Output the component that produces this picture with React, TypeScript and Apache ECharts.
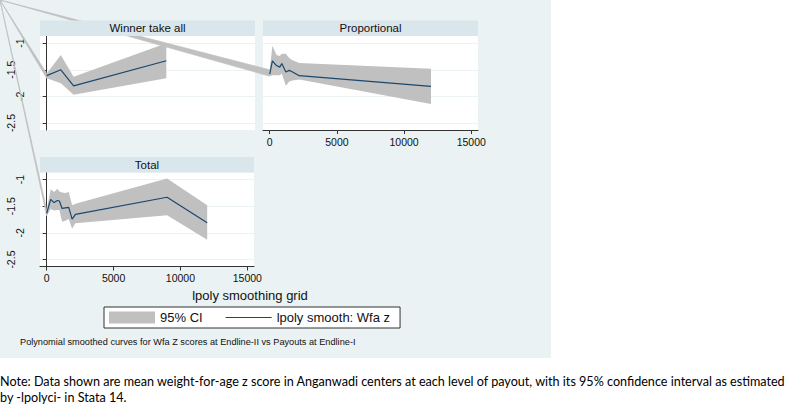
import React, { useEffect, useRef } from "react";
import * as echarts from "echarts";

// ---- data ----
const panelTitles = ["Winner take all", "Proportional", "Total"];
const yTicks = [-2.5, -2, -1.5, -1];
const xTicks = [0, 5000, 10000, 15000];

const wtaX = [0, 1050, 2000, 8900];
const wtaFit = [-1.61, -1.5, -1.8, -1.33];
const wtaUpper = [-1.57, -1.22, -1.63, -1.0];
const wtaLower = [-1.66, -1.75, -1.97, -1.66];

const propX = [0, 200, 500, 750, 900, 1200, 1450, 1700, 2200, 12000];
const propFit = [-1.58, -1.33, -1.42, -1.45, -1.38, -1.54, -1.51, -1.54, -1.61, -1.81];
const propUpper = [-1.5, -1.05, -1.22, -1.24, -1.2, -1.2, -1.28, -1.32, -1.37, -1.48];
const propLower = [-1.62, -1.6, -1.6, -1.6, -1.57, -1.8, -1.72, -1.7, -1.68, -2.14];

const totX = [0, 300, 550, 800, 950, 1150, 1400, 1650, 1900, 2150, 9000, 12000];
const totFit = [-1.63, -1.37, -1.43, -1.39, -1.4, -1.54, -1.53, -1.52, -1.74, -1.65, -1.33, -1.81];
const totUpper = [-1.57, -1.18, -1.23, -1.17, -1.22, -1.24, -1.25, -1.23, -1.48, -1.45, -0.98, -1.48];
const totLower = [-1.68, -1.55, -1.58, -1.57, -1.57, -1.79, -1.77, -1.74, -1.92, -1.82, -1.67, -2.13];

const ciName = "95% CI";
const fitName = "lpoly smooth: Wfa z";
const xTitle = "lpoly smoothing grid";
const caption = "Polynomial smoothed curves for Wfa Z scores at Endline-II vs Payouts at Endline-I";
const note1 =
  "Note: Data shown are mean weight-for-age z score in Anganwadi centers at each level of payout, with its 95% confidence interval as estimated";
const note2 = "by -lpolyci- in Stata 14.";

// ---- styles ----
const CI_COLOR = "#c0c0c0";
const LINE_COLOR = "#1a476f";
const OUTER_BG = "#eaf2f3";
const STRIP_BG = "#d9e6eb";
const AXIS_COLOR = "#333333";
const FONT = "Liberation Sans, Arial, sans-serif";
const NOTE_FONT = "Lato, sans-serif";

const panels = [
  { xs: wtaX, fit: wtaFit, up: wtaUpper, lo: wtaLower, grid: { left: 40, top: 36, width: 215, height: 94 }, showX: false, showY: true },
  { xs: propX, fit: propFit, up: propUpper, lo: propLower, grid: { left: 263, top: 36, width: 215, height: 94 }, showX: true, showY: false },
  { xs: totX, fit: totFit, up: totUpper, lo: totLower, grid: { left: 40, top: 172.5, width: 214, height: 94 }, showX: true, showY: true },
];

export default function App() {
  const ref = useRef<HTMLDivElement>(null);

  useEffect(() => {
    if (!ref.current) return;
    const chart = echarts.init(ref.current, null, { renderer: "svg" });

    const grids = panels.map((p) => ({
      ...p.grid,
      show: true,
      backgroundColor: "#ffffff",
      borderWidth: 0,
      containLabel: false,
    }));

    const xAxes = panels.map((p, i) => ({
      type: "value",
      gridIndex: i,
      min: -500,
      max: 15500,
      splitNumber: 3,
      axisLine: { show: p.showX, onZero: false, lineStyle: { color: AXIS_COLOR, width: 1 } },
      axisTick: { show: p.showX, customValues: xTicks, length: 4, lineStyle: { color: AXIS_COLOR } },
      axisLabel: {
        show: p.showX,
        customValues: xTicks,
        margin: 6,
        fontSize: 10.5,
        color: "#111",
        fontFamily: FONT,
        formatter: (v: number) => String(v),
      },
      splitLine: { show: false },
    }));

    const yAxes = panels.map((p, i) => ({
      type: "value",
      gridIndex: i,
      min: -2.63,
      max: -0.865,
      splitNumber: 3,
      axisLine: { show: p.showY, lineStyle: { color: AXIS_COLOR, width: 1 } },
      axisTick: { show: p.showY, customValues: yTicks, length: 4, lineStyle: { color: AXIS_COLOR } },
      axisLabel: {
        show: p.showY,
        customValues: yTicks,
        rotate: 90,
        margin: 14,
        formatter: (v: number) => (Number.isInteger(v) ? `{a|${v}}` : `{b|${v}}`),
        rich: {
          a: { fontSize: 10.5, lineHeight: 12, color: "#111", fontFamily: FONT },
          b: { fontSize: 10.5, lineHeight: 30, color: "#111", fontFamily: FONT },
        },
      },
      splitLine: { show: true, lineStyle: { color: OUTER_BG, width: 1 } },
    }));

    const series: any[] = [];
    panels.forEach((p, i) => {
      const { xs, up, lo, fit } = p;
      // stray wedge from the page corner (drawing artifact of the original figure)
      series.push({
        type: "custom",
        name: ciName,
        xAxisIndex: i,
        yAxisIndex: i,
        clip: false,
        silent: true,
        z: 1,
        itemStyle: { color: CI_COLOR },
        data: [[xs[0], up[0]]],
        renderItem: (_params: any, api: any) => {
          const a = api.coord([xs[0], up[0]]);
          const b = api.coord([xs[0], lo[0]]);
          return {
            type: "polygon",
            shape: { points: [[0, 0], a, b] },
            style: { fill: CI_COLOR, stroke: CI_COLOR, lineWidth: 0.7 },
          };
        },
      });
      series.push({
        type: "custom",
        name: ciName,
        xAxisIndex: i,
        yAxisIndex: i,
        clip: true,
        silent: true,
        z: 2,
        itemStyle: { color: CI_COLOR },
        data: [[xs[0], up[0]]],
        renderItem: (_params: any, api: any) => {
          const pts: number[][] = [];
          xs.forEach((x, k) => pts.push(api.coord([x, up[k]])));
          for (let k = xs.length - 1; k >= 0; k--) pts.push(api.coord([xs[k], lo[k]]));
          return { type: "polygon", shape: { points: pts }, style: { fill: CI_COLOR } };
        },
      });
      series.push({
        type: "line",
        name: fitName,
        xAxisIndex: i,
        yAxisIndex: i,
        data: xs.map((x, k) => [x, fit[k]]),
        symbol: "none",
        showSymbol: false,
        clip: true,
        z: 3,
        lineStyle: { color: LINE_COLOR, width: 1.2 },
        itemStyle: { color: LINE_COLOR },
      });
    });

    const stripTitles = panels.map((p, i) => ({
      text: panelTitles[i],
      left: p.grid.left + p.grid.width / 2,
      top: p.grid.top - 8,
      textAlign: "center",
      textVerticalAlign: "middle",
      padding: 0,
      z: 60,
      textStyle: { fontSize: 11.5, fontWeight: "normal", color: "#111", fontFamily: FONT },
    }));

    const option: any = {
      animation: false,
      backgroundColor: "#ffffff",
      grid: grids,
      xAxis: xAxes,
      yAxis: yAxes,
      series,
      legend: {
        left: 104,
        top: 307,
        orient: "horizontal",
        padding: [4, 10, 4, 5],
        itemGap: 23,
        itemWidth: 46,
        itemHeight: 12,
        backgroundColor: "#ffffff",
        borderColor: "#333",
        borderWidth: 1,
        borderRadius: 0,
        selectedMode: false,
        textStyle: { fontSize: 13, color: "#111", fontFamily: FONT },
        data: [
          { name: ciName, icon: "rect", itemStyle: { color: CI_COLOR } },
          { name: fitName, icon: "path://M0,0h46v1.2h-46z", itemStyle: { color: LINE_COLOR } },
        ],
      },
      title: [
        ...stripTitles,
        {
          text: xTitle,
          left: 250,
          top: 295,
          textAlign: "center",
          textVerticalAlign: "middle",
          padding: 0,
          textStyle: { fontSize: 13, fontWeight: "normal", color: "#111", fontFamily: FONT },
        },
        {
          text: caption,
          left: 20,
          top: 342,
          textAlign: "left",
          textVerticalAlign: "middle",
          padding: 0,
          textStyle: { fontSize: 9.2, fontWeight: "normal", color: "#111", fontFamily: FONT },
        },
        {
          text: note1,
          left: 0,
          top: 381,
          textAlign: "left",
          textVerticalAlign: "middle",
          padding: 0,
          textStyle: { fontSize: 12.6, fontWeight: "normal", color: "#000", fontFamily: NOTE_FONT },
        },
        {
          text: note2,
          left: 0,
          top: 397,
          textAlign: "left",
          textVerticalAlign: "middle",
          padding: 0,
          textStyle: { fontSize: 12.6, fontWeight: "normal", color: "#000", fontFamily: NOTE_FONT },
        },
      ],
      graphic: {
        elements: [
          { type: "rect", z: -100, silent: true, shape: { x: 0, y: 0, width: 551, height: 358 }, style: { fill: OUTER_BG } },
          ...panels.map((p) => ({
            type: "rect",
            z: 50,
            silent: true,
            shape: { x: p.grid.left, y: p.grid.top - 15.5, width: p.grid.width, height: 15.5 },
            style: { fill: STRIP_BG },
          })),
        ],
      },
    };

    chart.setOption(option);
    return () => chart.dispose();
  }, []);

  return (
    <div
      ref={ref}
      style={{ position: "fixed", left: 0, top: 0, width: 787, height: 404, background: "#fff" }}
    />
  );
}
